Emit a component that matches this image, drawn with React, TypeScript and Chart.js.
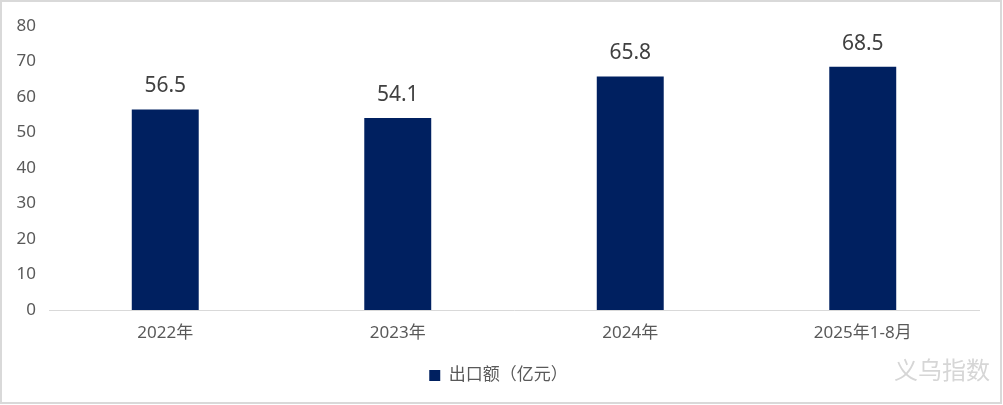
import React, { useEffect, useRef } from "react";
import { Chart, registerables } from "chart.js";

Chart.register(...registerables);

const categories = ["2022年", "2023年", "2024年", "2025年1-8月"];
const exportValues = [56.5, 54.1, 65.8, 68.5];
const seriesName = "出口额（亿元）";
const watermarkText = "义乌指数";

const FONT = "'Noto Sans', 'Noto Sans CJK SC', sans-serif";

const valueLabelPlugin = {
  id: "valueLabels",
  afterDatasetsDraw(chart: any) {
    const ctx = chart.ctx;
    const meta = chart.getDatasetMeta(0);
    const data = chart.data.datasets[0].data as number[];
    ctx.save();
    ctx.font = `21px ${FONT}`;
    ctx.fillStyle = "#404040";
    ctx.textAlign = "center";
    ctx.textBaseline = "middle";
    meta.data.forEach((bar: any, i: number) => {
      ctx.fillText(data[i].toFixed(1), bar.x, bar.y - 23);
    });
    ctx.restore();
  },
};

const legendShiftPlugin = {
  id: "legendShift",
  afterLayout(chart: any) {
    if (chart.legend) {
      chart.legend.left += 9;
      chart.legend.right += 9;
    }
  },
};

const framePlugin = {
  id: "frame",
  beforeDraw(chart: any) {
    const ctx = chart.ctx;
    ctx.save();
    ctx.fillStyle = "#ffffff";
    ctx.fillRect(0, 0, chart.width, chart.height);
    ctx.restore();
  },
  afterDraw(chart: any) {
    const ctx = chart.ctx;
    ctx.save();
    ctx.strokeStyle = "#d9d9d9";
    ctx.lineWidth = 2;
    ctx.strokeRect(1, 1, chart.width - 3, chart.height - 3);
    ctx.font = `24px 'Noto Sans CJK SC', sans-serif`;
    ctx.fillStyle = "#d6d6d6";
    ctx.textAlign = "right";
    ctx.textBaseline = "middle";
    ctx.fillText(watermarkText, 990, 370);
    ctx.restore();
  },
};

export default function App() {
  const canvasRef = useRef<HTMLCanvasElement | null>(null);

  useEffect(() => {
    document.body.style.margin = "0";
    const canvas = canvasRef.current;
    if (!canvas) return;
    const chart = new Chart(canvas, {
      type: "bar",
      data: {
        labels: categories,
        datasets: [
          {
            label: seriesName,
            data: exportValues,
            backgroundColor: "#002060",
            borderWidth: 0,
            categoryPercentage: 1,
            barPercentage: 0.288,
          },
        ],
      },
      options: {
        responsive: false,
        animation: false,
        maintainAspectRatio: false,
        layout: { padding: { left: 0, right: 24, top: 26, bottom: 11 } },
        plugins: {
          legend: {
            position: "bottom",
            labels: {
              boxWidth: 11,
              boxHeight: 11,
              color: "#595959",
              font: { family: FONT, size: 17 },
              padding: 10,
            },
          },
          tooltip: { enabled: false },
        },
        scales: {
          x: {
            grid: { display: false, drawTicks: false },
            border: { display: true, color: "#d9d9d9", width: 1 },
            ticks: {
              color: "#595959",
              font: { family: FONT, size: 17 },
              padding: 13,
              maxRotation: 0,
            },
            afterFit(axis: any) {
              axis.height = 47;
            },
          },
          y: {
            min: 0,
            max: 80,
            grid: { display: false, drawTicks: false },
            border: { display: false },
            ticks: {
              stepSize: 10,
              color: "#595959",
              font: { family: FONT, size: 17 },
              padding: 13,
            },
            afterFit(axis: any) {
              axis.width = 49;
            },
          },
        },
      },
      plugins: [valueLabelPlugin, legendShiftPlugin, framePlugin],
    });
    return () => chart.destroy();
  }, []);

  return (
    <div style={{ position: "absolute", left: 0, top: 0, width: 1003, height: 405 }}>
      <canvas ref={canvasRef} width={1003} height={405} style={{ display: "block" }} />
    </div>
  );
}
